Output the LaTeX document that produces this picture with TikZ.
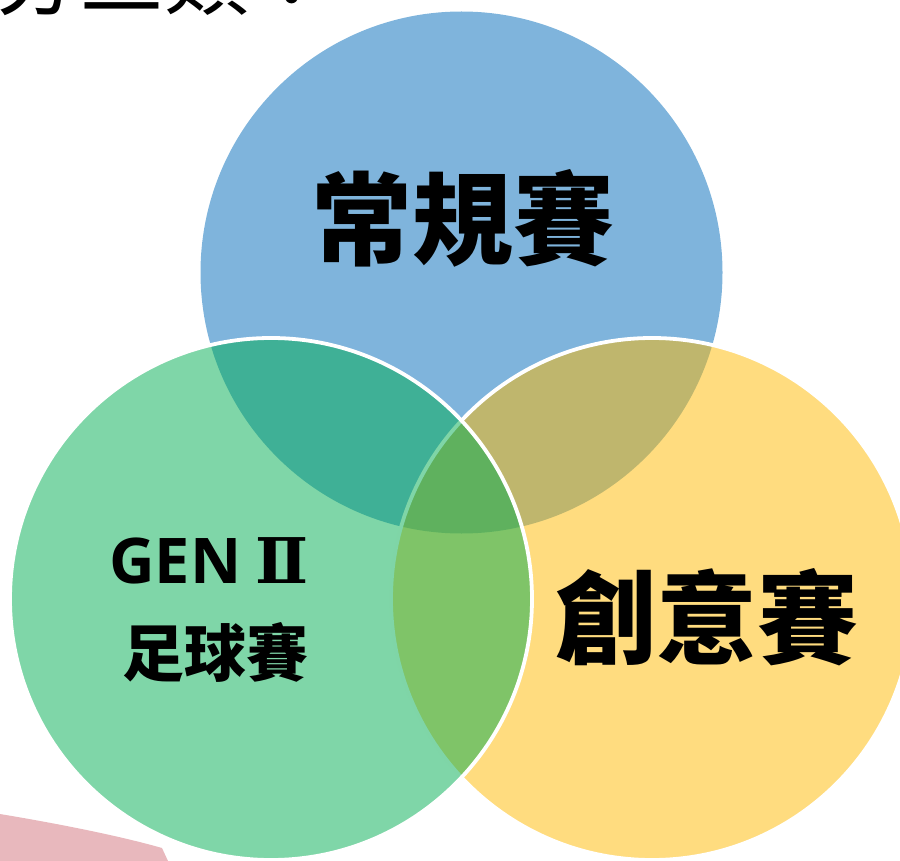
\documentclass[tikz,border=0pt]{standalone}
\usepackage{fontspec}
\newfontfamily\cjk{Noto Sans CJK TC}
\newfontfamily\latinfont{Open Sans}
\newfontfamily\numfont{DejaVu Serif}
\definecolor{cblue}{RGB}{127,180,220}
\definecolor{cyellow}{RGB}{255,185,0}
\definecolor{cgreen}{RGB}{0,173,81}
\definecolor{cpink}{RGB}{232,184,189}
\tikzset{
  px/.style={x=1pt,y=-1pt},
  ring/.style={draw=white,line width=3.8pt,fill opacity=0.5},
  bigtxt/.style={font=\cjk\bfseries\fontsize{101}{110}\selectfont,inner sep=0pt,text=black},
  midtxt/.style={font=\cjk\bfseries\fontsize{62}{70}\selectfont,inner sep=0pt,text=black},
  gentxt/.style={font=\latinfont\bfseries\fontsize{63}{70}\selectfont,inner sep=0pt,text=black},
  toptxt/.style={font=\cjk\fontsize{85}{90}\selectfont,inner sep=0pt,anchor=base west,text=black}
}
\begin{document}
\begin{tikzpicture}[px]
\useasboundingbox (0,0) rectangle (900,861);
\begin{scope}
\clip (0,0) rectangle (900,861);
% pink photo fragment at bottom left
\fill[cpink] (0,814) .. controls (60,824) and (120,836) .. (162,848) -- (168,861) -- (0,861) -- cycle;
% top text (mostly cut off)
\node[toptxt] (toptext) at (-6,9) {分三類：};
% circles
\coordinate (cb) at (461.5,272.5);
\coordinate (cg) at (271,599);
\coordinate (cy) at (652,599);
\fill[cblue] (cb) circle (261);
\path[ring,fill=cyellow] (cy) circle (261);
\path[ring,fill=cgreen] (cg) circle (261);
\end{scope}
\node[bigtxt] (regular) at (463,218) {常規賽};
\node[bigtxt] (creative) at (707,617) {創意賽};
\node[gentxt] (gen) at (209,561) {GEN\hspace{-2pt} {\numfont\bfseries\fontsize{63}{70}\selectfont Ⅱ}};
\node[midtxt] (soccer) at (215,652) {足球賽};
\end{tikzpicture}
\end{document}
